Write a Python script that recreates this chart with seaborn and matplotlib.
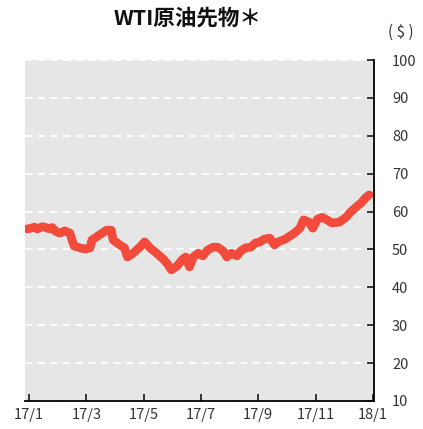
import pandas as pd
import numpy as np
import seaborn as sns
import matplotlib.pyplot as plt

# WTI crude futures, 2017
dates = ['2016-12-30', '2017-01-03', '2017-01-07', '2017-01-10', '2017-01-12', '2017-01-15',
         '2017-01-18', '2017-01-23', '2017-01-26', '2017-01-29',
         '2017-02-03', '2017-02-08', '2017-02-13', '2017-02-15', '2017-02-17', '2017-02-23',
         '2017-02-28', '2017-03-05', '2017-03-07', '2017-03-12', '2017-03-18', '2017-03-23',
         '2017-03-28', '2017-03-30', '2017-04-06', '2017-04-11', '2017-04-14', '2017-04-19',
         '2017-04-27', '2017-05-02', '2017-05-08', '2017-05-15', '2017-05-22', '2017-05-27',
         '2017-05-31', '2017-06-06', '2017-06-11', '2017-06-15', '2017-06-19', '2017-06-23',
         '2017-06-28', '2017-07-03', '2017-07-08', '2017-07-14', '2017-07-19', '2017-07-25',
         '2017-07-29', '2017-08-03', '2017-08-09', '2017-08-13', '2017-08-18', '2017-08-24',
         '2017-08-29', '2017-09-03', '2017-09-07', '2017-09-13', '2017-09-18', '2017-09-22',
         '2017-09-29', '2017-10-04', '2017-10-09', '2017-10-15', '2017-10-19', '2017-10-25',
         '2017-10-29', '2017-11-03', '2017-11-08', '2017-11-13', '2017-11-18', '2017-11-26',
         '2017-12-03', '2017-12-08', '2017-12-14', '2017-12-19', '2017-12-24', '2017-12-28']
price = [55.4, 55.6, 55.9, 55.4, 55.6, 56.0,
         55.9, 55.4, 55.8, 54.9,
         54.3, 54.9, 54.3, 52.5, 50.9, 50.4,
         50.1, 50.4, 52.5, 53.3, 54.3, 55.1,
         55.1, 52.5, 51.2, 50.4, 48.0, 48.8,
         50.6, 52.0, 50.4, 49.0, 47.5, 46.1,
         44.6, 45.6, 47.2, 48.0, 45.4, 48.0,
         49.0, 48.3, 49.8, 50.6, 50.6, 49.6,
         48.0, 49.0, 48.3, 49.6, 50.4, 50.6,
         51.7, 52.0, 52.7, 53.0, 51.2, 52.0,
         52.7, 53.5, 54.3, 55.6, 57.8, 57.2,
         55.6, 58.0, 58.5, 57.8, 57.0, 57.2,
         58.5, 59.9, 61.2, 62.2, 63.6, 64.4]
tick_labels = ['17/1', '17/3', '17/5', '17/7', '17/9', '17/11', '18/1']

df = pd.DataFrame({'date': pd.to_datetime(dates), 'price': price})
# months are spaced evenly on this chart
d = df['date'].dt
df['pos'] = (d.year - 2017) * 12 + d.month - 1 + (d.day - 1) / d.days_in_month

sns.set_style('white')
plt.rcParams['font.family'] = ['Noto Sans CJK JP', 'DejaVu Sans']

fig = plt.figure(figsize=(4.23, 4.29), dpi=100)
ax = fig.add_axes([25 / 423, 28 / 429, 349 / 423, 341 / 429])
ax.set_facecolor('#e6e6e6')

sns.lineplot(data=df, x='pos', y='price', ax=ax, color='#f24b3b', linewidth=6.2,
             solid_capstyle='round', solid_joinstyle='round')

ax.set_xlim(-0.14, 12.04)
ax.set_ylim(10, 100)
ax.set_xticks(range(0, 13, 2))
ax.set_xticklabels(tick_labels)
ax.set_yticks(range(10, 101, 10))
ax.yaxis.tick_right()
ax.grid(axis='y', color='white', linestyle=(0, (4, 3)), linewidth=1.3)
ax.set_axisbelow(True)
ax.set_xlabel('')
ax.set_ylabel('')

for s in ['top', 'left']:
    ax.spines[s].set_visible(False)
for s in ['right', 'bottom']:
    ax.spines[s].set_color('black')
    ax.spines[s].set_linewidth(1.3)

ax.tick_params(axis='x', direction='in', length=5, width=1.3, pad=5,
               labelsize=10.5, labelcolor='#333333', bottom=True)
ax.tick_params(axis='y', direction='in', length=5, width=1.3, pad=13,
               labelsize=10.5, labelcolor='#333333', right=True, left=False)

fig.text(0.443, 0.958, 'WTI原油先物＊', ha='center', va='center',
         fontsize=15.5, fontweight='bold', color='#111111')
fig.text(0.948, 0.925, '( $ )', ha='center', va='center', fontsize=11, color='#333333')

fig.savefig('out.png', dpi=100)
